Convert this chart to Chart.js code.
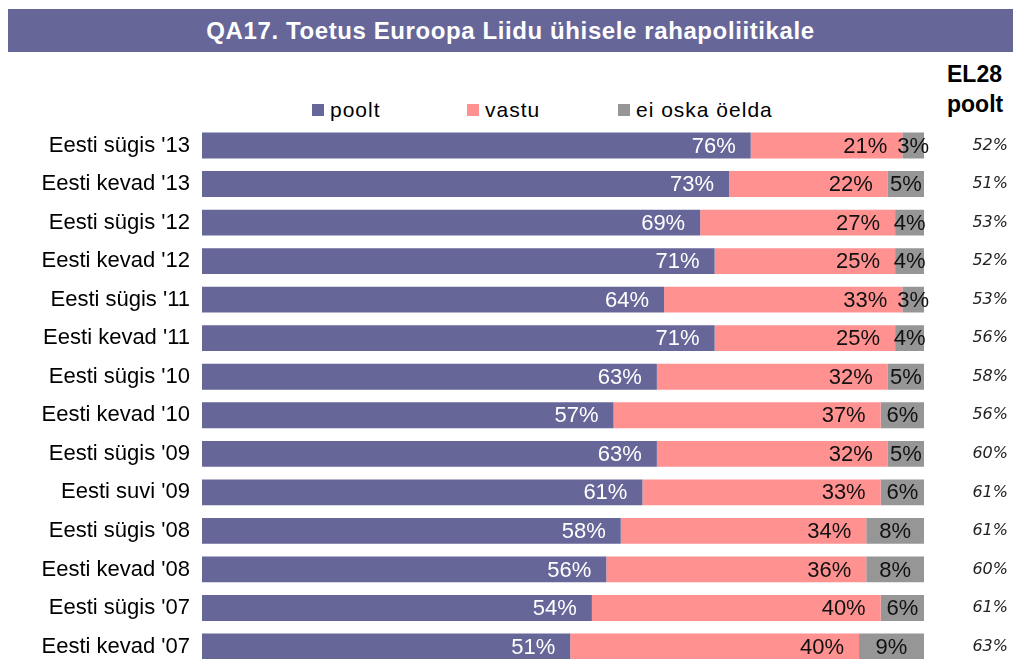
<!DOCTYPE html>
<html>
<head>
<meta charset="utf-8">
<script src="https://cdn.jsdelivr.net/npm/chart.js@4"></script>
<style>
  body { margin: 0; width: 1013px; height: 659px; overflow: hidden; background: #fff; font-family: "Liberation Sans", Arial, sans-serif; position: relative; }
  #title { position: absolute; left: 8px; top: 9px; width: 1005px; height: 43px; line-height: 43px; background: #666699; color: #fff; font-weight: bold; font-size: 24px; letter-spacing: 0.6px; text-align: center; }
  #legend { position: absolute; left: 312px; top: 97px; display: flex; font-size: 21px; letter-spacing: 1px; color: #000; line-height: 26px; }
  #legend .item { display: flex; align-items: center; }
  #legend .box { width: 12px; height: 12px; margin-right: 6px; }
  #head { position: absolute; left: 947px; top: 59px; font-weight: bold; font-size: 23px; line-height: 30px; color: #000; }
  #wrap { position: absolute; left: 0; top: 109px; width: 1013px; height: 574px; }
</style>
</head>
<body>
<div id="title">QA17. Toetus Euroopa Liidu ühisele rahapoliitikale</div>
<div id="legend"></div>
<div id="head">EL28<br>poolt</div>
<div id="wrap"><canvas id="chart"></canvas></div>
<script>
// andmed
const categories = ["Eesti sügis '13", "Eesti kevad '13", "Eesti sügis '12", "Eesti kevad '12", "Eesti sügis '11", "Eesti kevad '11", "Eesti sügis '10", "Eesti kevad '10", "Eesti sügis '09", "Eesti suvi '09", "Eesti sügis '08", "Eesti kevad '08", "Eesti sügis '07", "Eesti kevad '07"];
const poolt = [76, 73, 69, 71, 64, 71, 63, 57, 63, 61, 58, 56, 54, 51];
const vastu = [21, 22, 27, 25, 33, 25, 32, 37, 32, 33, 34, 36, 40, 40];
const eiOska = [3, 5, 4, 4, 3, 4, 5, 6, 5, 6, 8, 8, 6, 9];
const el28Poolt = [52, 51, 53, 52, 53, 56, 58, 56, 60, 61, 61, 60, 61, 63];

const seriesNames = ["poolt", "vastu", "ei oska öelda"];
const seriesColors = ["#666699", "#ff9191", "#969696"];
const legendWidths = [155, 151, 160];

// legend
const legend = document.getElementById("legend");
seriesNames.forEach((name, i) => {
    const item = document.createElement("div");
    item.className = "item";
    item.style.width = legendWidths[i] + "px";
    item.innerHTML = `<span class="box" style="background:${seriesColors[i]}"></span><span>${name}</span>`;
    legend.appendChild(item);
});

// protsendid ribade sees
const barLabels = {
    id: "barLabels",
    afterDatasetsDraw(chart) {
        const ctx = chart.ctx;
        ctx.save();
        ctx.font = '22px "Liberation Sans", Arial, sans-serif';
        ctx.textBaseline = "middle";
        chart.data.datasets.forEach((ds, di) => {
            const meta = chart.getDatasetMeta(di);
            meta.data.forEach((bar, i) => {
                const text = ds.data[i] + "%";
                if (di === 2) {
                    ctx.textAlign = "center";
                    ctx.fillStyle = "#111";
                    ctx.fillText(text, (bar.x + bar.base) / 2, bar.y + 1);
                } else {
                    ctx.textAlign = "right";
                    ctx.fillStyle = di === 0 ? "#ffffff" : "#111";
                    ctx.fillText(text, bar.x - 15, bar.y + 1);
                }
            });
        });
        ctx.restore();
    }
};

const ctx = document.getElementById("chart").getContext("2d");
new Chart(ctx, {
    type: "bar",
    data: {
        labels: categories,
        datasets: [
            { label: seriesNames[0], data: poolt, backgroundColor: seriesColors[0] },
            { label: seriesNames[1], data: vastu, backgroundColor: seriesColors[1] },
            { label: seriesNames[2], data: eiOska, backgroundColor: seriesColors[2] },
        ],
    },
    options: {
        indexAxis: "y",
        responsive: true,
        maintainAspectRatio: false,
        animation: false,
        barPercentage: 0.67,
        categoryPercentage: 1,
        layout: { padding: { top: 6, bottom: 6, left: 0, right: 5 } },
        plugins: {
            legend: { display: false },
            tooltip: { enabled: false },
        },
        scales: {
            x: {
                stacked: true,
                min: 0,
                max: 100,
                display: false,
            },
            y: {
                stacked: true,
                position: "left",
                grid: { display: false },
                border: { display: false },
                ticks: {
                    color: "#000",
                    padding: 4,
                    font: { family: '"Liberation Sans", Arial, sans-serif', size: 22 },
                },
                afterFit: (scale) => { scale.width = 202; },
            },
            y2: {
                type: "category",
                labels: el28Poolt.map((v) => v + "%"),
                position: "right",
                offset: true,
                grid: { display: false },
                border: { display: false },
                ticks: {
                    color: "#222",
                    crossAlign: "far",
                    font: { family: '"DejaVu Sans", Verdana, sans-serif', size: 16, style: "italic" },
                },
                afterFit: (scale) => { scale.width = 84; },
            },
        },
    },
    plugins: [barLabels],
});
</script>
</body>
</html>
